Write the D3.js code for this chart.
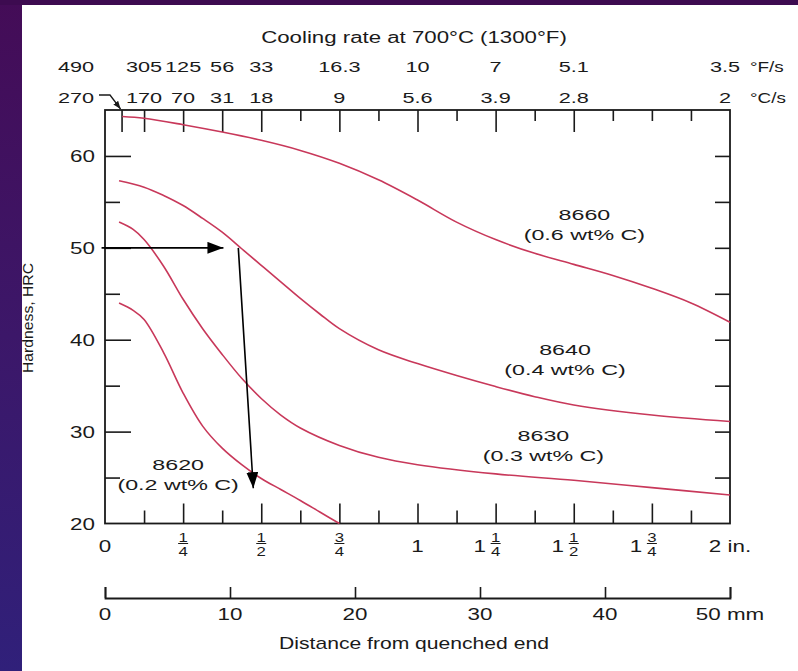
<!DOCTYPE html>
<html>
<head>
<meta charset="utf-8">
<script src="https://cdn.jsdelivr.net/npm/d3@7"></script>
<style>
body { margin: 0; background: #fff; }
text { font-family: "Liberation Sans", Arial, sans-serif; fill: #1a1a1a; }
</style>
</head>
<body>
<svg id="chart" width="798" height="671"></svg>
<script>
// Jominy end-quench curves: [distance in inches, hardness HRC]
var steel8660 = [[0.055,64.3],[0.125,64.1],[0.25,63.4],[0.375,62.6],[0.5,61.7],[0.625,60.6],[0.75,59.2],[0.875,57.4],[1.0,55.2],[1.125,52.8],[1.25,50.9],[1.375,49.4],[1.5,48.2],[1.625,47.0],[1.75,45.6],[1.875,44.0],[2.0,41.9]];
var steel8640 = [[0.045,57.3],[0.125,56.6],[0.1875,55.7],[0.25,54.6],[0.3125,53.2],[0.375,51.7],[0.4375,49.9],[0.5,48.1],[0.5625,46.3],[0.625,44.5],[0.6875,42.8],[0.75,41.2],[0.875,38.9],[1.0,37.4],[1.125,36.1],[1.25,34.9],[1.375,33.8],[1.5,32.9],[1.75,31.8],[2.0,31.1]];
var steel8630 = [[0.045,52.8],[0.09,52.0],[0.125,50.9],[0.1875,48.0],[0.25,44.4],[0.3125,41.2],[0.375,38.4],[0.4375,35.8],[0.5,33.6],[0.5625,31.8],[0.625,30.4],[0.75,28.5],[0.875,27.2],[1.0,26.4],[1.25,25.4],[1.5,24.7],[1.75,23.9],[2.0,23.1]];
var steel8620 = [[0.045,44.0],[0.09,43.2],[0.125,42.2],[0.1875,38.6],[0.25,34.2],[0.3125,30.6],[0.375,28.2],[0.4375,26.4],[0.5,24.9],[0.5625,23.7],[0.625,22.5],[0.6875,21.25],[0.75,20.0]];

var steelNames = ["8660", "8640", "8630", "8620"];
var carbonText = ["(0.6 wt% C)", "(0.4 wt% C)", "(0.3 wt% C)", "(0.2 wt% C)"];
// where each name sits, [inches, HRC]
var nameSpots = [[1.534, 53.06], [1.472, 38.33], [1.403, 28.95], [0.234, 25.78]];

// cooling rate at 700 C, read along the top
var rateAt = [0.053, 0.125, 0.25, 0.375, 0.5, 0.75, 1, 1.25, 1.5, 2];
var rateF = ["490", "305", "125", "56", "33", "16.3", "10", "7", "5.1", "3.5"];
var rateC = ["270", "170", "70", "31", "18", "9", "5.6", "3.9", "2.8", "2"];
var topMinor = [0.625, 0.875, 1.125, 1.375, 1.625, 1.75, 1.875];

var hrcMajor = [30, 40, 50, 60];
var hrcMinor = [25, 35, 45, 55];
var hrcLabels = [20, 30, 40, 50, 60];

var inchMajor = [0.25, 0.5, 0.75, 1, 1.25, 1.5, 1.75];
var inchMinor = [0.125, 0.375, 0.625, 0.875, 1.125, 1.375, 1.625, 1.875];
// [inch value, whole part, numerator, denominator]
var inchLabels = [[0,"0","",""],[0.25,"","1","4"],[0.5,"","1","2"],[0.75,"","3","4"],[1,"1","",""],[1.25,"1","1","4"],[1.5,"1","1","2"],[1.75,"1","3","4"],[2,"2 in.","",""]];
var mmTicks = [0, 10, 20, 30, 40, 50];

// reading arrows: [inches, HRC] start and tip
var arrowAcross = [[-0.011, 50], [0.379, 50]];
var arrowDown = [[0.4266, 50], [0.4746, 23.84]];

var svg = d3.select("#chart");
var plotL = 105, plotR = 730, plotT = 110, plotB = 523.5;
var x = d3.scaleLinear().domain([0, 2]).range([plotL, plotR]);
var mm = d3.scaleLinear().domain([0, 50]).range([plotL, plotR]);
var y = d3.scaleLinear().domain([20, 65]).range([plotB, plotT]);
var ink = "#1a1a1a";

// slide background
var defs = svg.append("defs");
var grad = defs.append("linearGradient").attr("id", "bg").attr("x1", 0).attr("y1", 0).attr("x2", 0).attr("y2", 1);
grad.append("stop").attr("offset", 0).attr("stop-color", "#440c57");
grad.append("stop").attr("offset", 0.5).attr("stop-color", "#3c1769");
grad.append("stop").attr("offset", 1).attr("stop-color", "#30207a");
svg.append("rect").attr("width", 798).attr("height", 671).attr("fill", "#fff");
svg.append("rect").attr("width", 22).attr("height", 671).attr("fill", "url(#bg)");
svg.append("rect").attr("width", 798).attr("height", 5).attr("fill", "#3d0b50");

var head = defs.append("marker").attr("id", "head").attr("markerUnits", "userSpaceOnUse")
    .attr("viewBox", "0 0 16 12").attr("markerWidth", 16).attr("markerHeight", 12)
    .attr("refX", 16).attr("refY", 6).attr("orient", "auto");
head.append("path").attr("d", "M0,0 L16,6 L0,12 Z").attr("fill", "#000");
var smallHead = defs.append("marker").attr("id", "smallhead").attr("markerUnits", "userSpaceOnUse")
    .attr("viewBox", "0 0 8 6").attr("markerWidth", 8).attr("markerHeight", 6)
    .attr("refX", 8).attr("refY", 3).attr("orient", "auto");
smallHead.append("path").attr("d", "M0,0 L8,3 L0,6 Z").attr("fill", ink);

function label(x0, y0, s, size, sx, anchor) {
    return svg.append("text")
        .attr("transform", "translate(" + x0 + "," + y0 + ") scale(" + sx + ",1)")
        .attr("text-anchor", anchor || "middle")
        .style("font-size", size + "px")
        .text(s);
}

function styleTicks(g) {
    g.select(".domain").remove();
    g.selectAll(".tick line").attr("stroke", ink).attr("stroke-width", 1.6);
    g.selectAll(".tick text").remove();
}

// ticks, all pointing inward
svg.append("g").attr("transform", "translate(0," + plotB + ")")
    .call(d3.axisBottom(x).tickValues(inchMajor).tickSize(-20)).call(styleTicks);
svg.append("g").attr("transform", "translate(0," + plotB + ")")
    .call(d3.axisBottom(x).tickValues(inchMinor).tickSize(-13)).call(styleTicks);
svg.append("g").attr("transform", "translate(0," + plotT + ")")
    .call(d3.axisTop(x).tickValues(rateAt.slice(0, -1)).tickSize(-22)).call(styleTicks);
svg.append("g").attr("transform", "translate(0," + plotT + ")")
    .call(d3.axisTop(x).tickValues(topMinor).tickSize(-11)).call(styleTicks);
svg.append("g").attr("transform", "translate(" + plotL + ",0)")
    .call(d3.axisLeft(y).tickValues(hrcMajor).tickSize(-26)).call(styleTicks);
svg.append("g").attr("transform", "translate(" + plotL + ",0)")
    .call(d3.axisLeft(y).tickValues(hrcMinor).tickSize(-15)).call(styleTicks);
svg.append("g").attr("transform", "translate(" + plotR + ",0)")
    .call(d3.axisRight(y).tickValues(hrcMinor.concat(hrcMajor)).tickSize(-15)).call(styleTicks);

// frame
svg.append("rect").attr("x", plotL).attr("y", plotT).attr("width", plotR - plotL).attr("height", plotB - plotT)
    .attr("fill", "none").attr("stroke", ink).attr("stroke-width", 1.8);

// hardness labels
var yLab = svg.append("g").attr("transform", "translate(" + plotL + ",0)")
    .call(d3.axisLeft(y).tickValues(hrcLabels).tickSize(0));
yLab.select(".domain").remove();
yLab.selectAll(".tick text").attr("x", null).attr("dy", "0.36em")
    .attr("transform", "translate(-10,0) scale(1.4,1)")
    .style("font-size", "16px").attr("fill", ink);

svg.append("text").attr("transform", "translate(33,318) rotate(-90) scale(1.05,1)")
    .attr("text-anchor", "middle").style("font-size", "15px").text("Hardness, HRC");

// inch labels with stacked fractions
inchLabels.forEach(function (d) {
    var cx = x(d[0]);
    if (d[2] === "") {
        label(cx, 552, d[1], 16, 1.4, "middle");
        return;
    }
    if (d[1] !== "") label(cx - 16, 552, d[1], 16, 1.4, "middle");
    label(cx, 541.5, d[2], 12, 1.4, "middle");
    svg.append("line").attr("x1", cx - 5).attr("x2", cx + 5).attr("y1", 543.5).attr("y2", 543.5)
        .attr("stroke", ink).attr("stroke-width", 1);
    label(cx, 555.5, d[3], 12, 1.4, "middle");
});

// millimetre scale
var mmAxis = svg.append("g").attr("transform", "translate(0,598)")
    .call(d3.axisBottom(mm).tickValues(mmTicks).tickSize(-11).tickSizeOuter(-11));
mmAxis.select(".domain").attr("stroke", ink).attr("stroke-width", 1.8);
mmAxis.selectAll(".tick line").attr("stroke", ink).attr("stroke-width", 1.6);
mmAxis.selectAll(".tick text").remove();
mmTicks.forEach(function (v, i) {
    label(mm(v), 620, i === mmTicks.length - 1 ? v + " mm" : String(v), 16, 1.4, "middle");
});
label(414, 649, "Distance from quenched end", 16, 1.32, "middle");

// cooling rate header
label(414, 43, "Cooling rate at 700\u00b0C (1300\u00b0F)", 16, 1.39, "middle");
rateAt.forEach(function (v, i) {
    var cx = x(v);
    if (i === 0) cx = 76;
    if (i === rateAt.length - 1) cx = cx - 5;
    label(cx, 72, rateF[i], 14, 1.55, "middle");
    label(cx, 103, rateC[i], 14, 1.55, "middle");
});
label(750, 72, "\u00b0F/s", 14, 1.35, "start");
label(750, 103, "\u00b0C/s", 14, 1.35, "start");
svg.append("path").attr("d", "M99,95 L110,95 L" + (x(rateAt[0]) - 1) + "," + (plotT - 1))
    .attr("fill", "none").attr("stroke", ink).attr("stroke-width", 1.3).attr("marker-end", "url(#smallhead)");

// curves
var line = d3.line().x(function (d) { return x(d[0]); }).y(function (d) { return y(d[1]); })
    .curve(d3.curveCatmullRom.alpha(0.5));
[steel8660, steel8640, steel8630, steel8620].forEach(function (s) {
    svg.append("path").datum(s).attr("d", line)
        .attr("fill", "none").attr("stroke", "#c8385a").attr("stroke-width", 1.6);
});

steelNames.forEach(function (n, i) {
    var p = nameSpots[i];
    label(x(p[0]), y(p[1]), n, 15, 1.55, "middle");
    label(x(p[0]), y(p[1]) + 20, carbonText[i], 15, 1.55, "middle");
});

// reading arrows
[arrowAcross, arrowDown].forEach(function (a) {
    svg.append("line").attr("x1", x(a[0][0])).attr("y1", y(a[0][1]))
        .attr("x2", x(a[1][0])).attr("y2", y(a[1][1]))
        .attr("stroke", "#000").attr("stroke-width", 1.6).attr("marker-end", "url(#head)");
});
</script>
</body>
</html>
